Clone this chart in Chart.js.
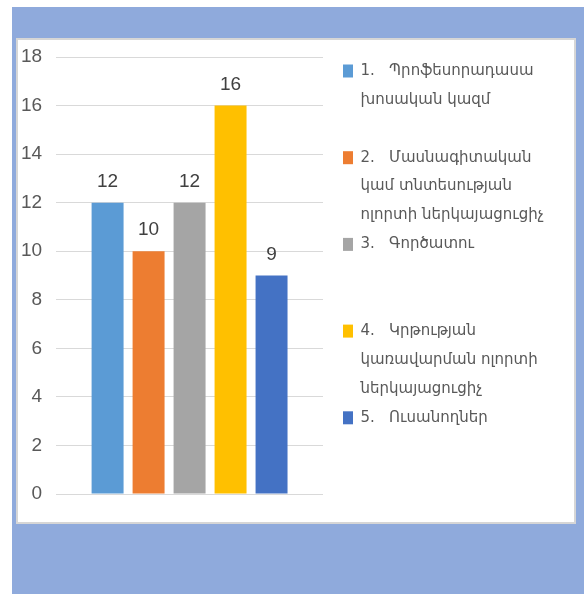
<!DOCTYPE html>
<html>

<head>
  <meta charset="utf-8">
  <title>Bar chart</title>
  <style>
    body {
      margin: 0;
      background-color: #ffffff;
    }

    .frame {
      position: absolute;
      left: 12px;
      top: 7px;
      width: 572px;
      height: 587px;
      background-color: #8faadc;
    }

    .panel {
      position: absolute;
      left: 16px;
      top: 38px;
      width: 560px;
      height: 486px;
      box-sizing: border-box;
      border: 2px solid #d6d6d6;
      background-color: #ffffff;
    }

    .chart-box {
      position: relative;
      width: 556px;
      height: 482px;
    }
  </style>
  <script src="https://cdn.jsdelivr.net/npm/chart.js"></script>
</head>

<body>
  <div class="frame"></div>
  <div class="panel">
    <div class="chart-box">
      <canvas id="barChart"></canvas>
    </div>
  </div>

  <script>
    // --- data ---
    const categories = [''];
    const seriesNames = [
      ['1.   Պրոֆեսորադասա', 'խոսական կազմ', ''],
      ['2.   Մասնագիտական', 'կամ տնտեսության', 'ոլորտի ներկայացուցիչ'],
      ['3.   Գործատու', '', ''],
      ['4.   Կրթության', 'կառավարման ոլորտի', 'ներկայացուցիչ'],
      ['5.   Ուսանողներ']
    ];
    const seriesValues = [12, 10, 12, 16, 9];
    const yTicks = [0, 2, 4, 6, 8, 10, 12, 14, 16, 18];

    const seriesColors = ['#5b9bd5', '#ed7d31', '#a5a5a5', '#ffc000', '#4472c4'];

    // value labels above each bar
    const valueLabels = {
      id: 'valueLabels',
      afterDatasetsDraw(chart) {
        const ctx = chart.ctx;
        ctx.save();
        ctx.font = '19px "Liberation Sans", sans-serif';
        ctx.fillStyle = '#404040';
        ctx.textAlign = 'center';
        ctx.textBaseline = 'alphabetic';
        chart.data.datasets.forEach((ds, i) => {
          chart.getDatasetMeta(i).data.forEach((bar, j) => {
            ctx.fillText(ds.data[j], bar.x, bar.y - 16);
          });
        });
        ctx.restore();
      }
    };

    // leave a gap between plot and legend, and let the legend use the rest of the width
    const legendGap = {
      id: 'legendGap',
      afterLayout(chart) {
        const lg = chart.legend;
        lg.left += 20;
        lg.right = chart.width;
        lg.width = lg.right - lg.left;
      }
    };

    const datasets = seriesValues.map((v, i) => ({
      label: seriesNames[i][0],
      data: [v],
      backgroundColor: seriesColors[i],
      categoryPercentage: 0.768,
      barPercentage: 0.78
    }));

    new Chart(document.getElementById('barChart').getContext('2d'), {
      type: 'bar',
      data: {
        labels: categories,
        datasets: datasets
      },
      options: {
        responsive: true,
        maintainAspectRatio: false,
        animation: false,
        layout: { padding: { left: 3, top: 17, right: 101, bottom: 28 } },
        scales: {
          x: { display: false },
          y: {
            min: yTicks[0],
            max: yTicks[yTicks.length - 1],
            ticks: {
              stepSize: yTicks[1] - yTicks[0],
              padding: 0,
              color: '#595959',
              font: { family: '"Liberation Sans", sans-serif', size: 19 }
            },
            grid: { color: '#d9d9d9', drawTicks: true, tickLength: 14, tickColor: 'rgba(0,0,0,0)' },
            border: { display: false }
          }
        },
        plugins: {
          tooltip: { enabled: false },
          legend: {
            position: 'right',
            align: 'start',
            maxWidth: 150,
            title: { display: true, text: '', padding: 0, font: { size: 6.5, lineHeight: 1 } },
            labels: {
              boxWidth: 10,
              boxHeight: 13,
              padding: 0,
              color: '#595959',
              font: { family: '"DejaVu Sans", sans-serif', size: 15, lineHeight: '28.9px' },
              generateLabels: (chart) => chart.data.datasets.map((ds, i) => ({
                text: seriesNames[i],
                fillStyle: seriesColors[i],
                strokeStyle: seriesColors[i],
                lineWidth: 0,
                fontColor: '#595959',
                datasetIndex: i
              }))
            }
          }
        }
      },
      plugins: [valueLabels, legendGap]
    });
  </script>
</body>

</html>
